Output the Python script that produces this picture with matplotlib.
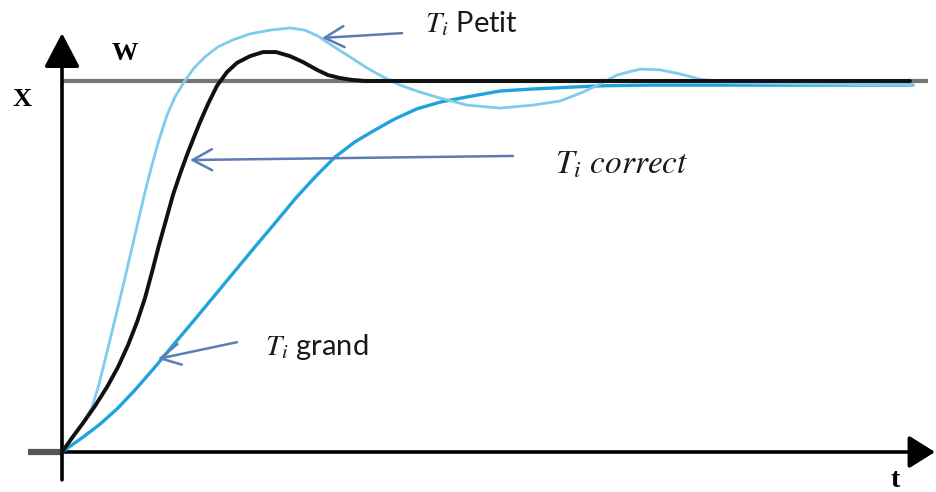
import matplotlib
matplotlib.use("Agg")
import matplotlib.pyplot as plt

# Step responses of a PI loop for three integral times.
# t : time (arbitrary units), x : controlled variable in % of the setpoint W

t_correct = [0, 1.0, 2.1, 3.3, 4.5, 5.6, 6.6, 7.5, 8.3, 9.0, 9.7, 10.4, 11.1, 11.8,
             12.5, 13.2, 13.8, 14.6, 15.5, 16.5, 17.5, 18.8, 20.1, 21.4, 22.8,
             24.1, 25.5, 26.6, 27.8, 29.0, 30.3, 33.8, 43.8, 63.8, 84.8]
x_correct = [0, 3.8, 7.8, 12.4, 17.5, 22.9, 28.8, 35.0, 41.5, 48.5, 55.8, 62.5,
             69.3, 74.9, 80.1, 84.9, 88.9, 93.8, 98.7, 102.4, 104.9, 106.7, 107.8,
             107.8, 106.7, 105.1, 103.0, 101.6, 100.8, 100.3, 100.0, 100.0, 100.0,
             100.0, 100.0]

t_small = [0, 1.0, 2.1, 3.0, 3.6, 4.1, 4.8, 5.5, 6.2, 6.9, 7.6, 8.3, 9.0, 9.7, 10.5,
           11.3, 12.2, 13.2, 14.3, 15.6, 17.1, 18.8, 20.8, 22.8, 24.3, 25.6, 27.1,
           28.8, 30.5, 32.1, 33.8, 35.8, 37.8, 40.5, 43.8, 47.1, 49.8, 52.1, 53.8,
           55.5, 57.8, 59.8, 61.8, 63.8, 66.8, 73.8, 85.1]
x_small = [0, 3.8, 7.8, 12.1, 17.3, 22.6, 30.2, 38.0, 45.8, 53.9, 62.0, 70.1, 77.4,
           84.1, 90.8, 95.7, 99.7, 103.5, 106.5, 109.2, 111.1, 112.7, 113.7, 114.3,
           113.7, 112.1, 109.4, 106.5, 103.5, 101.1, 98.9, 97.0, 95.4, 93.5, 92.7,
           93.5, 94.6, 97.0, 99.2, 101.6, 103.2, 103.0, 101.9, 100.5, 99.5, 99.2,
           98.9]

t_large = [0, 2.1, 3.8, 5.5, 7.3, 9.3, 11.3, 13.3, 15.3, 17.3, 19.3, 21.3, 23.3,
           25.3, 27.3, 29.3, 31.3, 33.3, 35.5, 37.8, 40.5, 43.8, 46.8, 49.8, 53.8,
           58.8, 63.8, 73.8, 85.1]
x_large = [0, 4.0, 7.5, 11.6, 16.7, 22.9, 29.4, 35.8, 42.3, 48.8, 55.3, 61.7, 68.2,
           74.1, 79.5, 83.6, 86.8, 89.8, 92.5, 94.3, 95.7, 97.3, 97.8, 98.2, 98.7,
           98.9, 98.9, 98.9, 98.9]

setpoint = 100.0
t_end_setpoint = 86.6

C_BLACK = "#111111"
C_SMALL = "#7fcbec"
C_LARGE = "#1fa3dc"
C_ARROW = "#5b7db3"
C_GRID = "#767676"

plt.rcParams["mathtext.fontset"] = "stix"
plt.rcParams["font.family"] = ["Lato", "DejaVu Sans"]

fig = plt.figure(figsize=(9.37, 4.92), dpi=100)
ax = fig.add_axes([0, 0, 1, 1])
ax.set_xlim(-6.2, 87.5)
ax.set_ylim(-10.78, 121.83)
ax.axis("off")

# setpoint line W
ax.plot([0, t_end_setpoint], [setpoint, setpoint], color=C_GRID, lw=3.0,
        solid_capstyle="butt", zorder=1)

# axes with arrow heads
ax.plot([-3.4, 0], [0, 0], color="#555555", lw=4.5, solid_capstyle="butt", zorder=2)
ax.annotate("", xy=(87.3, 0), xytext=(0, 0),
            arrowprops=dict(arrowstyle="-|>,head_length=0.8,head_width=0.5",
                            lw=2.6, color="black", mutation_scale=20,
                            shrinkA=0, shrinkB=0), zorder=3)
ax.annotate("", xy=(0, 112.9), xytext=(0, -7.5),
            arrowprops=dict(arrowstyle="-|>,head_length=1.05,head_width=0.55",
                            lw=2.6, color="black", mutation_scale=20,
                            shrinkA=0, shrinkB=0), zorder=3)

# response curves
line_kw = dict(solid_capstyle="round", solid_joinstyle="round")
ax.plot(t_large, x_large, color=C_LARGE, lw=2.4, zorder=4, **line_kw)
ax.plot(t_small, x_small, color=C_SMALL, lw=2.0, zorder=5, **line_kw)
ax.plot(t_correct, x_correct, color=C_BLACK, lw=2.8, zorder=6, **line_kw)

# axis labels
serif_bold = dict(family="Liberation Serif", fontweight="bold", color="black")
ax.text(6.3, 107.5, "W", fontsize=19, ha="center", va="center", **serif_bold)
ax.text(-4.0, 95.0, "X", fontsize=19, ha="center", va="center", **serif_bold)
ax.text(83.3, -7.8, "t", fontsize=20, ha="center", va="center", **serif_bold)

# annotations
arrow_kw = dict(arrowstyle="->,head_length=0.7,head_width=0.38", lw=1.8,
                color=C_ARROW, mutation_scale=20, shrinkA=0, shrinkB=0)
ax.annotate("", xy=(26.0, 111.6), xytext=(34.0, 112.9), arrowprops=arrow_kw, zorder=7)
ax.annotate("", xy=(12.8, 78.7), xytext=(45.1, 79.8), arrowprops=arrow_kw, zorder=7)
ax.annotate("", xy=(9.6, 25.1), xytext=(17.5, 29.6), arrowprops=arrow_kw, zorder=7)

ax.text(36.3, 113.2, r"$T_i$ Petit", fontsize=21, color="#1a1a1a",
        ha="left", va="baseline")
ax.text(49.3, 75.2, r"$T_i\ correct$", fontsize=24, color="#1a1a1a",
        ha="left", va="baseline")
ax.text(20.3, 26.1, r"$T_i$ grand", fontsize=21, color="#1a1a1a",
        ha="left", va="baseline")

fig.savefig("out.png", dpi=100)
